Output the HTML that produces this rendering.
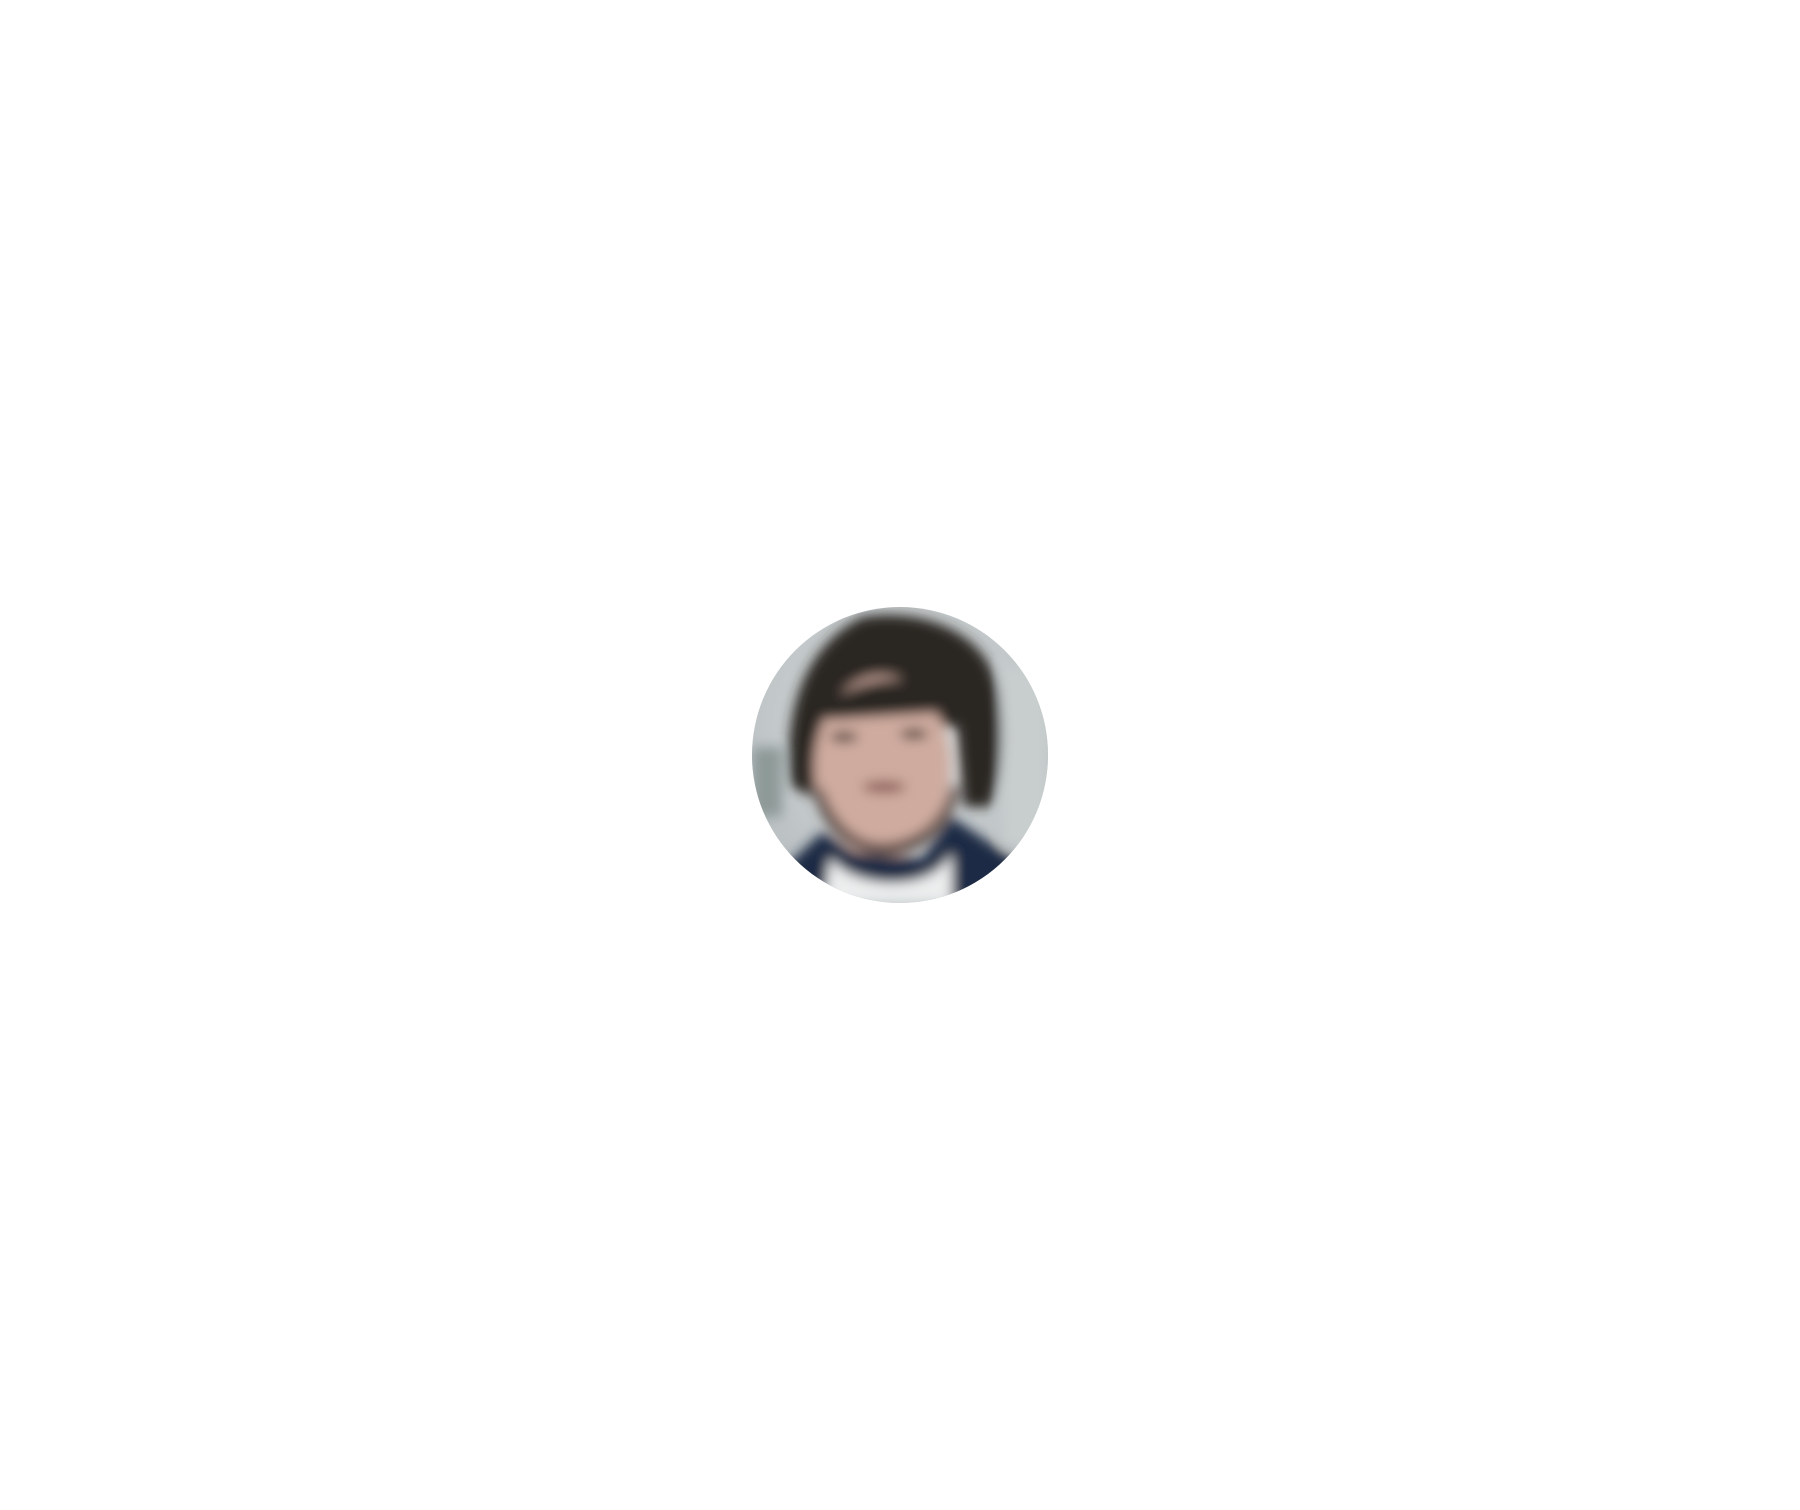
<!DOCTYPE html>
<html><head><meta charset="utf-8"><style>
html,body{margin:0;padding:0;background:#fff;width:1800px;height:1510px;overflow:hidden}
svg{position:absolute;left:752px;top:607px}
</style></head><body>
<svg width="296" height="296" viewBox="0 0 296 296">
<defs>
<clipPath id="c"><circle cx="148" cy="148" r="148"/></clipPath>
<radialGradient id="bg" cx="0.5" cy="0.4" r="0.7"><stop offset="0" stop-color="#dadedf"/><stop offset="1" stop-color="#b4babc"/></radialGradient>
<filter id="b"><feGaussianBlur stdDeviation="6"/></filter>
</defs>
<g clip-path="url(#c)">
<rect width="296" height="296" fill="url(#bg)"/>
<g filter="url(#b)">
<rect x="0" y="140" width="30" height="70" fill="#8e9a98"/>
<rect x="250" y="60" width="46" height="180" fill="#c8cdce"/>
<path d="M40 180 C30 110 50 40 110 10 C170 0 235 25 245 80 C252 120 250 170 238 200 L212 200 L205 120 L72 110 L62 190 Z" fill="#2b2624"/>
<ellipse cx="130" cy="160" rx="68" ry="92" fill="#cfab9f"/>
<path d="M65 110 C90 70 170 55 212 100 L214 125 L190 105 L80 112 Z" fill="#2b2624"/>
<path d="M62 185 C80 265 185 270 207 185 L200 175 C190 225 150 238 125 236 C95 232 78 205 70 180 Z" fill="#55453f"/>
<path d="M0 296 L25 268 L70 225 L100 245 L170 252 L200 210 L270 258 L296 296 Z" fill="#1f2b44"/>
<path d="M78 250 C100 282 180 288 200 245 L200 296 L72 296 Z" fill="#eceeee"/>
<ellipse cx="92" cy="130" rx="14" ry="5" fill="#4a3a35"/>
<ellipse cx="162" cy="127" rx="14" ry="5" fill="#4a3a35"/>
<ellipse cx="132" cy="180" rx="22" ry="6" fill="#8e5e58"/>
</g>
</g>
</svg>
</body></html>
